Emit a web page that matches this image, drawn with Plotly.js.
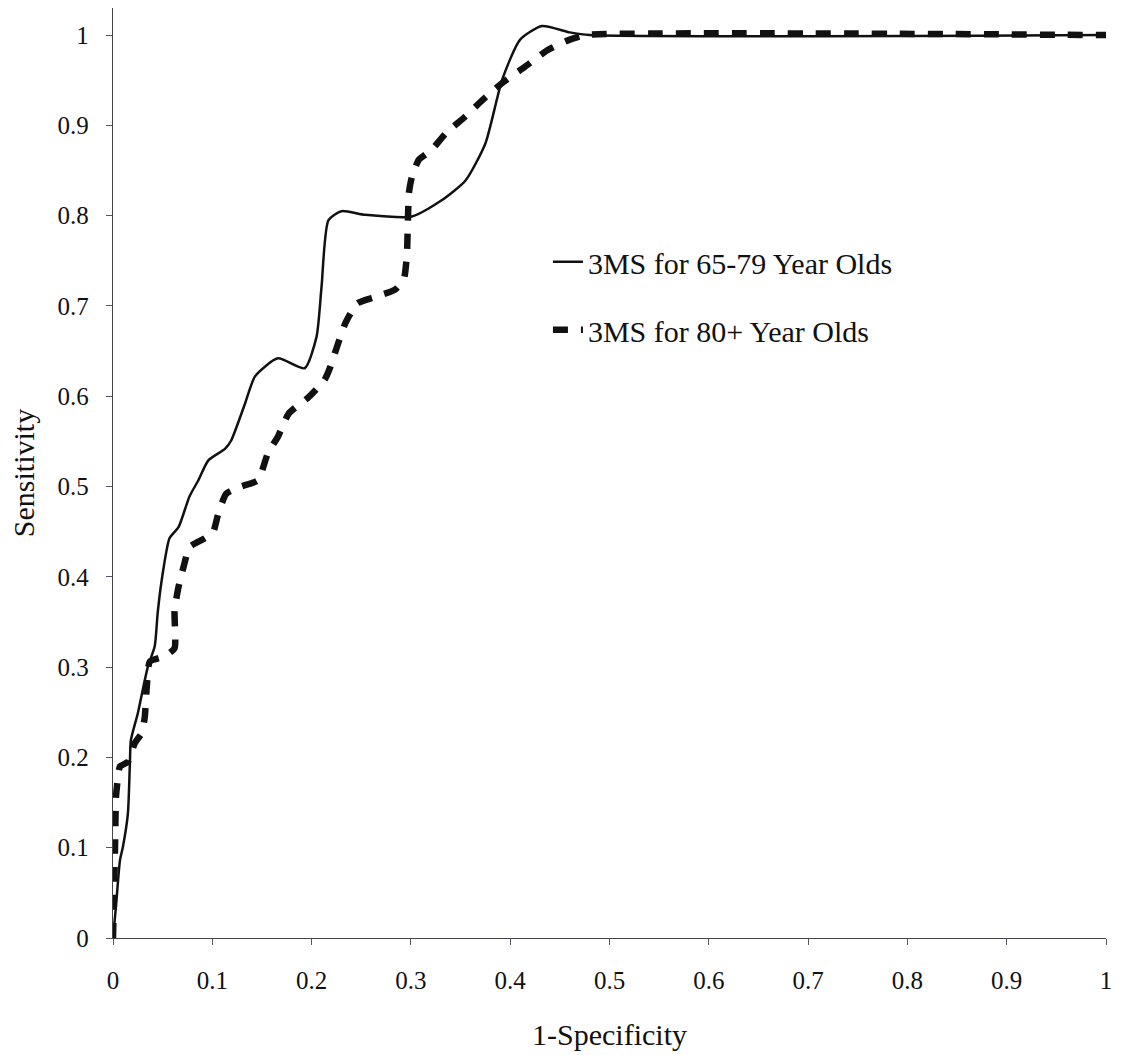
<!DOCTYPE html>
<html>
<head>
<meta charset="utf-8">
<script src="https://cdn.plot.ly/plotly-3.0.1.min.js"></script>
<style>html,body{margin:0;padding:0;background:#fff;}#chart{width:1121px;height:1055px;}</style>
</head>
<body>
<div id="chart"></div>
<script>
// 3MS for 65-79 Year Olds (solid)
const younger_fpr = [0, 0.003, 0.007, 0.010, 0.015, 0.017, 0.018, 0.025, 0.035, 0.042, 0.045, 0.049, 0.057, 0.066, 0.077, 0.086, 0.096, 0.113, 0.119, 0.133, 0.143, 0.166, 0.193, 0.205, 0.210, 0.217, 0.230, 0.254, 0.301, 0.331, 0.355, 0.375, 0.392, 0.410, 0.432, 0.460, 0.480, 1];
const younger_sens = [0, 0.035, 0.086, 0.101, 0.138, 0.193, 0.219, 0.249, 0.300, 0.323, 0.360, 0.396, 0.443, 0.455, 0.489, 0.507, 0.529, 0.542, 0.551, 0.592, 0.622, 0.642, 0.631, 0.666, 0.721, 0.795, 0.805, 0.801, 0.799, 0.817, 0.839, 0.880, 0.951, 0.995, 1.010, 1.003, 1.000, 1];

// 3MS for 80+ Year Olds (dashed)
const older_fpr = [0, 0.002, 0.003, 0.004, 0.007, 0.015, 0.022, 0.029, 0.032, 0.034, 0.037, 0.052, 0.062, 0.062, 0.066, 0.072, 0.077, 0.093, 0.101, 0.106, 0.114, 0.129, 0.146, 0.156, 0.166, 0.177, 0.197, 0.213, 0.219, 0.225, 0.234, 0.246, 0.264, 0.284, 0.293, 0.296, 0.297, 0.298, 0.301, 0.308, 0.321, 0.335, 0.355, 0.372, 0.392, 0.415, 0.437, 0.460, 0.476, 1];
const older_sens = [0, 0.100, 0.156, 0.168, 0.190, 0.195, 0.216, 0.227, 0.245, 0.278, 0.306, 0.312, 0.321, 0.363, 0.389, 0.415, 0.433, 0.443, 0.450, 0.470, 0.492, 0.500, 0.507, 0.537, 0.555, 0.581, 0.599, 0.618, 0.633, 0.653, 0.681, 0.703, 0.710, 0.718, 0.730, 0.758, 0.795, 0.825, 0.843, 0.862, 0.873, 0.891, 0.910, 0.928, 0.947, 0.965, 0.983, 0.995, 1.000, 1];

const tickVals = [0, 0.1, 0.2, 0.3, 0.4, 0.5, 0.6, 0.7, 0.8, 0.9, 1];
const tickText = ['0', '0.1', '0.2', '0.3', '0.4', '0.5', '0.6', '0.7', '0.8', '0.9', '1'];
const seriesNames = ['3MS for 65-79 Year Olds', '3MS for 80+ Year Olds'];

const FONT = 'Liberation Serif';

const traces = [
  {
    x: younger_fpr, y: younger_sens, name: seriesNames[0], legendgroup: 'a',
    type: 'scatter', mode: 'lines',
    line: {color: '#111', width: 2.5, shape: 'spline', smoothing: 0.6}
  },
  {
    x: older_fpr, y: older_sens, name: seriesNames[1], legendgroup: 'b',
    type: 'scatter', mode: 'lines',
    line: {color: '#111', width: 6.5, dash: '15px,13px', shape: 'spline', smoothing: 0.5}
  }
];

const axisCommon = {
  showgrid: false, zeroline: false, showline: true,
  linecolor: '#444', linewidth: 1.2,
  ticks: 'outside', ticklen: 6, tickwidth: 1, tickcolor: '#556',
  tickfont: {family: FONT, size: 25, color: '#111'},
  tickvals: tickVals, ticktext: tickText
};

const layout = {
  width: 1121, height: 1055,
  font: {family: FONT, size: 25, color: '#111'},
  paper_bgcolor: '#fff', plot_bgcolor: '#fff',
  margin: {l: 113, r: 15, t: 8, b: 117},
  showlegend: true,
  legend: {
    x: 0.438, y: 0.755, xanchor: 'left', yanchor: 'top',
    font: {family: FONT, size: 30, color: '#111'},
    bgcolor: 'rgba(0,0,0,0)', tracegroupgap: 26, traceorder: 'grouped'
  },
  xaxis: Object.assign({}, axisCommon, {
    range: [0, 1],
    ticklabelstandoff: 14,
    title: {text: '1-Specificity', font: {family: FONT, size: 30, color: '#111'}, standoff: 30}
  }),
  yaxis: Object.assign({}, axisCommon, {
    range: [0, 1.03],
    ticklabelstandoff: 12,
    title: {text: 'Sensitivity', font: {family: FONT, size: 30, color: '#111'}, standoff: 14}
  })
};

Plotly.newPlot('chart', traces, layout, {displayModeBar: false, staticPlot: true});
</script>
</body>
</html>
